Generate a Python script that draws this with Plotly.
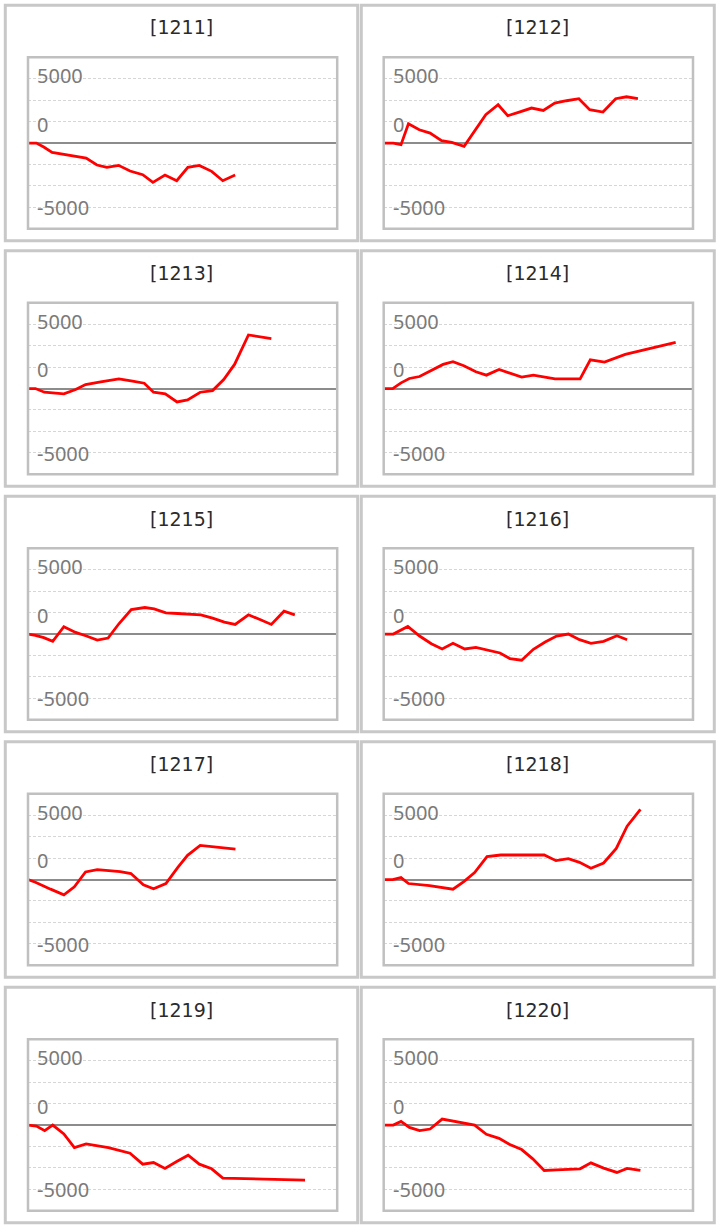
import plotly.graph_objects as go

# ---- data (x: position along session, 0-100; y: balance) ----
titles = ["[1211]", "[1212]", "[1213]", "[1214]", "[1215]",
          "[1216]", "[1217]", "[1218]", "[1219]", "[1220]"]

x_1211 = [0, 2.7, 5.1, 7.8, 18.8, 22.3, 25.5, 29.3, 33.0, 37.1, 40.4, 44.3, 48.1, 51.7, 55.4, 59.4, 63.0, 67.0]
y_1211 = [0, 0, -311, -725, -1166, -1710, -1890, -1735, -2175, -2460, -3056, -2486, -2927, -1890, -1735, -2200, -2927, -2486]

x_1212 = [0, 3.1, 5.6, 8.0, 11.5, 15.0, 18.7, 22.0, 26.0, 29.5, 33.0, 37.0, 40.1, 43.8, 47.8, 51.6, 55.3, 59.1, 63.1, 66.6, 70.9, 75.0, 78.5, 82.2]
y_1212 = [0, 0, -130, 1502, 1036, 777, 181, 52, -259, 958, 2200, 2979, 2124, 2409, 2720, 2538, 3108, 3289, 3445, 2590, 2409, 3445, 3600, 3445]

x_1213 = [0, 2.4, 5.3, 11.6, 15.4, 18.6, 23.5, 29.4, 33.8, 37.6, 40.6, 44.4, 48.2, 51.6, 55.7, 59.7, 63.3, 66.8, 71.3, 78.7]
y_1213 = [0, 0, -286, -417, -78, 312, 521, 755, 573, 417, -286, -417, -1042, -885, -286, -156, 703, 1875, 4166, 3880]

x_1214 = [0, 2.9, 5.6, 8.3, 11.6, 15.4, 19.2, 22.4, 25.9, 29.8, 33.2, 37.3, 40.8, 44.6, 48.4, 52.2, 55.4, 63.5, 66.8, 71.4, 74.9, 78.1, 82.5, 86.3, 90.4, 94.4]
y_1214 = [0, 0, 443, 781, 937, 1406, 1875, 2083, 1771, 1302, 1042, 1484, 1198, 885, 1042, 885, 755, 755, 2239, 2057, 2344, 2656, 2916, 3125, 3333, 3594]

x_1215 = [0, 2.4, 5.1, 8.0, 11.6, 15.4, 18.9, 22.4, 25.9, 29.4, 33.4, 37.8, 40.8, 44.6, 48.4, 52.2, 55.9, 59.7, 63.5, 67.0, 71.3, 75.2, 78.7, 82.8, 86.3]
y_1215 = [0, -103, -283, -567, 567, 129, -155, -464, -309, 799, 1907, 2062, 1959, 1649, 1598, 1546, 1495, 1237, 928, 747, 1495, 1108, 747, 1778, 1495]

x_1216 = [0, 3.1, 7.8, 11.6, 15.4, 18.9, 22.4, 26.2, 29.8, 33.8, 37.6, 40.8, 44.6, 48.4, 52.2, 55.9, 59.7, 63.3, 67.0, 71.1, 75.4, 78.7]
y_1216 = [0, 0, 593, -155, -747, -1160, -722, -1160, -1031, -1263, -1469, -1907, -2036, -1185, -618, -155, 0, -438, -722, -567, -129, -438]

x_1217 = [0, 2.4, 7.3, 11.6, 15.0, 18.6, 22.4, 29.8, 33.3, 37.3, 40.6, 44.6, 48.4, 51.6, 55.7, 67.1]
y_1217 = [0, -206, -747, -1185, -567, 593, 773, 618, 464, -412, -722, -309, 928, 1881, 2654, 2371]

x_1218 = [0, 2.9, 5.6, 8.0, 14.8, 22.4, 25.9, 29.4, 33.4, 37.8, 51.9, 55.7, 59.7, 63.3, 67.0, 71.1, 75.2, 78.7, 83.0]
y_1218 = [0, 0, 155, -309, -464, -747, -155, 541, 1778, 1907, 1907, 1469, 1624, 1340, 876, 1289, 2423, 4149, 5463]

x_1219 = [0, 2.7, 5.4, 8.0, 11.6, 15.0, 18.8, 26.0, 33.0, 37.1, 40.6, 44.3, 48.1, 51.8, 55.4, 59.4, 63.0, 89.6]
y_1219 = [0, -77, -438, 0, -696, -1752, -1469, -1752, -2190, -3041, -2912, -3376, -2835, -2345, -3041, -3401, -4123, -4278]

x_1220 = [0, 3.1, 5.6, 8.3, 11.6, 15.0, 18.9, 22.6, 29.4, 33.2, 37.3, 40.6, 44.6, 48.2, 51.9, 55.9, 63.5, 67.0, 71.1, 75.4, 78.7, 83.0]
y_1220 = [0, 0, 283, -180, -438, -309, 464, 309, 0, -722, -1031, -1495, -1907, -2628, -3530, -3479, -3401, -2938, -3350, -3685, -3376, -3530]

xs = [x_1211, x_1212, x_1213, x_1214, x_1215, x_1216, x_1217, x_1218, x_1219, x_1220]
ys = [y_1211, y_1212, y_1213, y_1214, y_1215, y_1216, y_1217, y_1218, y_1219, y_1220]

grid_step = 5000 / 3
grid_vals = [k * grid_step for k in range(-3, 4)]
label_vals = [5000, grid_step, -5000]
label_texts = ["5000", "0", "-5000"]
label_shift = [3, -2.5, -0.5]

# ---- layout geometry (pixels) ----
W, H = 720, 1229
ROW_PITCH = 245.5
box_x = [(5.3, 357.7), (361.3, 714.3)]
box_top, box_bot = 5.3, 240.7
plot_x = [(28.0, 337.2), (383.7, 693.0)]
plot_top, plot_bot = 57.3, 228.8
title_y = 27.5

fig = go.Figure()
shapes, annotations = [], []
layout_axes = {}

for i in range(10):
    r, c = divmod(i, 2)
    sfx = "" if i == 0 else str(i + 1)
    xid, yid = "x" + sfx, "y" + sfx
    off = r * ROW_PITCH

    fig.add_trace(go.Scatter(x=xs[i], y=ys[i], mode="lines", xaxis=xid, yaxis=yid,
                             line=dict(color="#ff0000", width=2.8), hoverinfo="skip",
                             showlegend=False))

    px0, px1 = plot_x[c]
    layout_axes["xaxis" + sfx] = dict(
        domain=[px0 / W, px1 / W], range=[0, 100], anchor=yid,
        showgrid=False, zeroline=False, showticklabels=False, showline=False,
        ticks="", fixedrange=True)
    layout_axes["yaxis" + sfx] = dict(
        domain=[1 - (plot_bot + off) / H, 1 - (plot_top + off) / H],
        range=[-4 * grid_step, 4 * grid_step], anchor=xid,
        tickvals=grid_vals, showticklabels=False, ticks="",
        showgrid=True, gridcolor="#d6d6d6", gridwidth=1, griddash="3px,2px",
        zeroline=True, zerolinecolor="#8c8c8c", zerolinewidth=2,
        showline=False, fixedrange=True)

    # outer panel box
    bx0, bx1 = box_x[c]
    shapes.append(dict(type="rect", xref="paper", yref="paper",
                       x0=bx0 / W, x1=bx1 / W,
                       y0=1 - (box_bot + off) / H, y1=1 - (box_top + off) / H,
                       line=dict(color="#c8c8c8", width=3), layer="below"))
    # plot area border
    shapes.append(dict(type="rect", xref=xid + " domain", yref=yid + " domain",
                       x0=0, x1=1, y0=0, y1=1,
                       line=dict(color="#c0c0c0", width=2.5), layer="above"))

    # title
    annotations.append(dict(text=titles[i], xref="paper", yref="paper",
                            x=(bx0 + bx1) / 2 / W, y=1 - (title_y + off) / H,
                            xanchor="center", yanchor="middle", showarrow=False,
                            font=dict(family="DejaVu Sans", size=19, color="#2b2b2b")))
    # y labels inside plot
    for v, t, s in zip(label_vals, label_texts, label_shift):
        annotations.append(dict(text=t, xref=xid + " domain", yref=yid,
                                x=7 / (px1 - px0), y=v, yshift=s,
                                xanchor="left", yanchor="middle", showarrow=False,
                                font=dict(family="Noto Sans", size=20, color="#7a7a7a")))

fig.update_layout(width=W, height=H, margin=dict(l=0, r=0, t=0, b=0),
                  paper_bgcolor="white", plot_bgcolor="white",
                  showlegend=False, shapes=shapes, annotations=annotations,
                  **layout_axes)

fig.write_html("out.html", config={"displayModeBar": False},
               post_script="document.body.style.margin='0';document.body.style.overflow='hidden';")
